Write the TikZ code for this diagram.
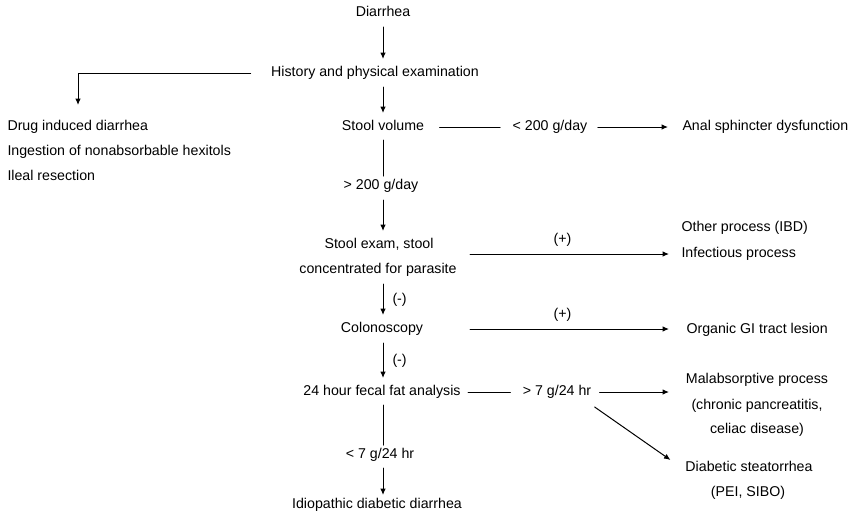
\documentclass[tikz,border=0pt]{standalone}
\usepackage{fontspec}
\setmainfont{Liberation Sans}
\usetikzlibrary{calc,arrows.meta}

\begin{document}
\begin{tikzpicture}[line join=round,line cap=round,>={Latex[length=6.5pt,width=5.5pt]},x=1pt,y=-1pt,line width=1pt,
	every node/.style={font=\fontsize{14.2}{16}\selectfont,text height=10pt,text depth=3pt,inner sep=3pt},
	vline/.style={->,shorten <=4pt,shorten >=4pt}]
	\useasboundingbox (0,0) rectangle (858,517);
	% Cột giữa
	\path (383,13) node (diar) {Diarrhea};
	\path (375,73) node (hist) {History and physical examination};
	\path (383,127) node (vol) {Stool volume};
	\path (381,186) node (gt200) {> 200 g/day};
	\path (379,245) node (exam) {Stool exam, stool};
	\path (378,270) node (exam2) {concentrated for parasite};
	\path (382,329) node (colon) {Colonoscopy};
	\path (382,392) node (fat) {24 hour fecal fat analysis};
	\path (380,455) node (lt7) {< 7 g/24 hr};
	\path (377,505) node (idio) {Idiopathic diabetic diarrhea};
	% Bên trái
	\coordinate (bend) at (78,73);
	\path (4,127) node[anchor=west] (drug) {Drug induced diarrhea};
	\path (4,152) node[anchor=west] (ingest) {Ingestion of nonabsorbable hexitols};
	\path (4,177) node[anchor=west] (ileal) {Ileal resection};
	% Bên phải
	\path (550,127) node (lt200) {< 200 g/day};
	\path (679,127) node[anchor=west] (anal) {Anal sphincter dysfunction};
	\path (678,228) node[anchor=west] (other) {Other process (IBD)};
	\path (678,254) node[anchor=west] (infect) {Infectious process};
	\path (683,330) node[anchor=west] (organic) {Organic GI tract lesion};
	\path (557,392) node (gt7) {> 7 g/24 hr};
	\path (757,380) node (malab) {Malabsorptive process};
	\path (757,406) node (chronic) {(chronic pancreatitis,};
	\path (757,430) node (celiac) {celiac disease)};
	\path (749,468) node (steat) {Diabetic steatorrhea};
	\path (748,493) node (pei) {(PEI, SIBO)};
	% Mũi tên dọc
	\draw[vline] (diar.south) -- (hist.north -| diar);
	\draw[vline] (hist.south -| diar) -- (vol.north);
	\draw[shorten <=3pt] (vol.south) -- (gt200.north -| vol);
	\draw[vline] (gt200.south -| diar) -- (exam.north -| diar);
	\draw[vline] (exam2.south -| diar) -- (colon.north -| diar) node[midway,right=6pt] (m1) {(-)};
	\draw[vline] (colon.south -| diar) -- (fat.north -| diar) node[midway,right=6pt] (m2) {(-)};
	\draw[shorten <=3pt] (fat.south -| diar) -- (lt7.north -| diar);
	\draw[->,shorten <=3pt] (lt7.south -| diar) -- (idio.north -| diar);
	% Nhánh trái
	\draw[->,shorten <=17pt,shorten >=12pt] (hist.west) -- (bend) -- (bend |- drug.north);
	% Nhánh phải
	\draw[shorten <=12pt,shorten >=9pt] (vol.east) -- (lt200.west);
	\draw[->,shorten <=7pt,shorten >=11pt] (lt200.east) -- (anal.west);
	\draw[->,shorten <=10pt,shorten >=9pt] (exam2.east |- infect.west) -- node[pos=0.47,above=4pt] (p1) {(+)} (infect.west);
	\draw[->,shorten <=10pt,shorten >=9pt] (exam2.east |- colon) -- node[pos=0.47,above=4pt] (p2) {(+)} (colon -| infect.west);
	\draw[shorten <=4pt,shorten >=9pt] (fat.east) -- (gt7.west);
	\draw[->,shorten <=5pt,shorten >=9pt] (gt7.east) -- (gt7.east -| infect.west);
	\draw[->,shorten >=14pt] ([yshift=-5pt]gt7.south east) -- (steat.west);
\end{tikzpicture}
\end{document}
